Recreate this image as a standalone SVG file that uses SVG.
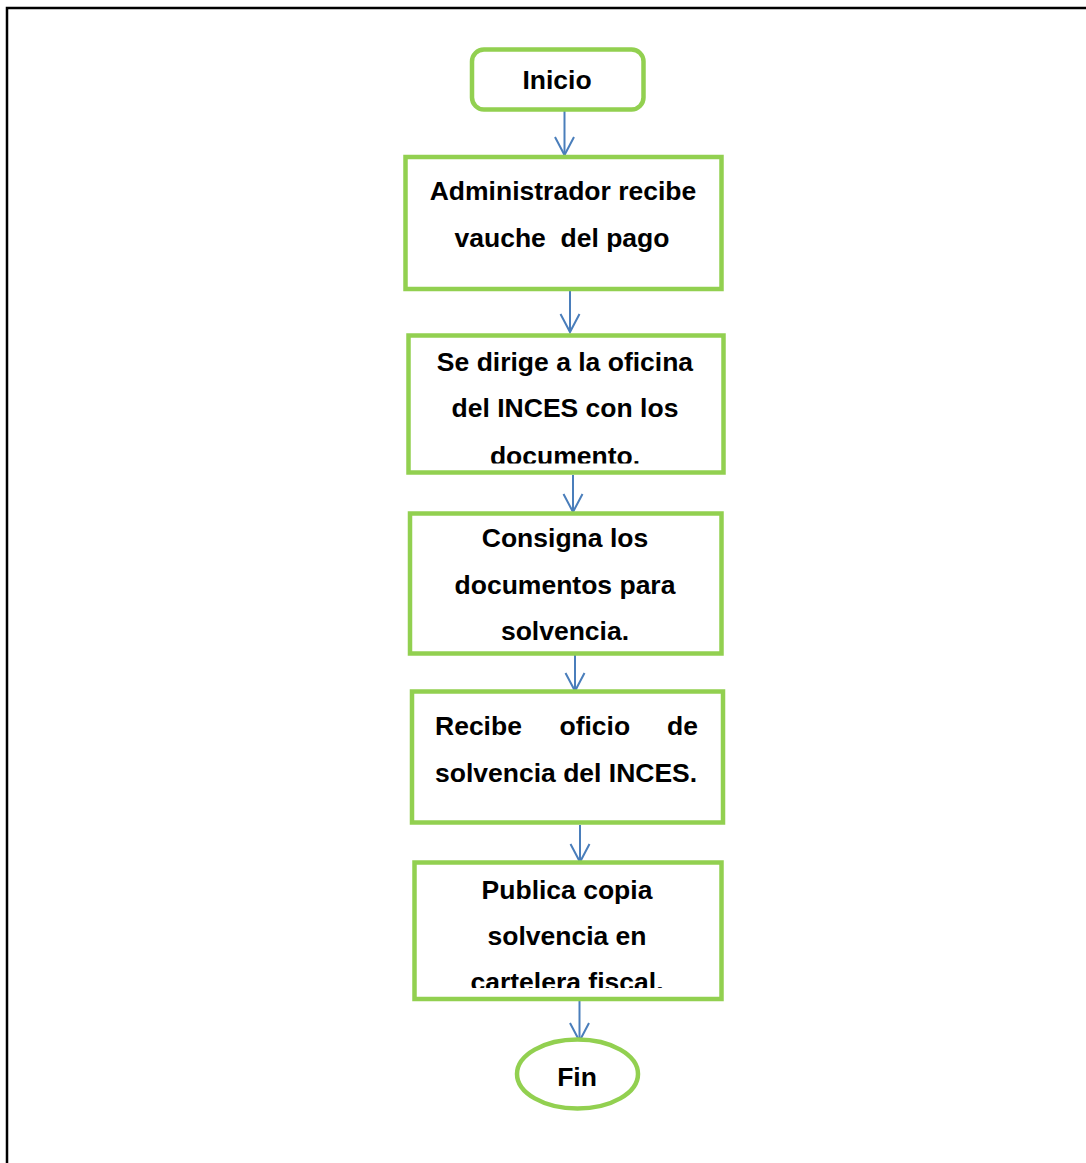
<svg xmlns="http://www.w3.org/2000/svg" width="1086" height="1163" viewBox="0 0 1086 1163">
  <style>
    .box { fill: #ffffff; stroke: #92D050; stroke-width: 4.5; }
    .lbl { font-family: "Liberation Sans", Arial, sans-serif; font-weight: bold; font-size: 26.5px; fill: #000000; white-space: pre; }
    .mid { text-anchor: middle; }
    .flow { stroke: #4A7EBB; stroke-width: 2; fill: none; marker-end: url(#arrow); }
  </style>
  <defs>
    <marker id="arrow" markerUnits="userSpaceOnUse" viewBox="0 -10 20 20" markerWidth="20" markerHeight="20" refX="18" refY="0" orient="auto" overflow="visible">
      <path d="M0,-9.5 L18,0 L0,9.5" fill="none" stroke="#4A7EBB" stroke-width="2"/>
    </marker>
    <clipPath id="clip-oficina"><rect x="406" y="333" width="320" height="130.5"/></clipPath>
    <clipPath id="clip-publica"><rect x="412" y="860" width="312" height="128"/></clipPath>
  </defs>

  <!-- page frame -->
  <rect x="7" y="8" width="1120" height="1200" fill="none" stroke="#000000" stroke-width="2.5"/>

  <g id="connectors">
    <line class="flow" x1="564.5" y1="111" x2="564.5" y2="155"/>
    <line class="flow" x1="570" y1="290" x2="570" y2="332"/>
    <line class="flow" x1="573" y1="475" x2="573" y2="512"/>
    <line class="flow" x1="575" y1="655" x2="575" y2="691"/>
    <line class="flow" x1="580" y1="825" x2="580" y2="862"/>
    <line class="flow" x1="579.5" y1="1001" x2="579.5" y2="1041"/>
  </g>

  <g id="inicio">
    <rect class="box" x="472" y="49.5" width="171.5" height="60" rx="12" ry="12"/>
    <text class="lbl mid" x="557" y="88.5">Inicio</text>
  </g>

  <g id="recibe-vauche">
    <rect class="box" x="405.5" y="157" width="316" height="132"/>
    <text class="lbl mid" x="563" y="200">Administrador recibe</text>
    <text class="lbl mid" x="562" y="247" xml:space="preserve">vauche  del pago</text>
  </g>

  <g id="dirige-oficina">
    <rect class="box" x="408.5" y="335.5" width="315" height="137"/>
    <g clip-path="url(#clip-oficina)">
      <text class="lbl mid" x="565" y="371">Se dirige a la oficina</text>
      <text class="lbl mid" x="565" y="417">del INCES con los</text>
      <text class="lbl mid" x="565" y="464.5">documento.</text>
    </g>
  </g>

  <g id="consigna">
    <rect class="box" x="410" y="513.5" width="311.5" height="140"/>
    <text class="lbl mid" x="565" y="547">Consigna los</text>
    <text class="lbl mid" x="565" y="594">documentos para</text>
    <text class="lbl mid" x="565" y="640">solvencia.</text>
  </g>

  <g id="recibe-oficio">
    <rect class="box" x="412" y="691.5" width="311" height="131"/>
    <text class="lbl" y="734.5"><tspan x="435">Recibe</tspan><tspan x="559.5">oficio</tspan><tspan x="667">de</tspan></text>
    <text class="lbl" x="435" y="782">solvencia del INCES.</text>
  </g>

  <g id="publica">
    <rect class="box" x="414.5" y="862.5" width="307" height="136.5"/>
    <g clip-path="url(#clip-publica)">
      <text class="lbl mid" x="567" y="898.5">Publica copia</text>
      <text class="lbl mid" x="567" y="945">solvencia en</text>
      <text class="lbl mid" x="567" y="990.5">cartelera fiscal.</text>
    </g>
  </g>

  <g id="fin">
    <ellipse class="box" cx="577.5" cy="1074" rx="60.5" ry="34.5"/>
    <text class="lbl mid" x="577" y="1086">Fin</text>
  </g>
</svg>
